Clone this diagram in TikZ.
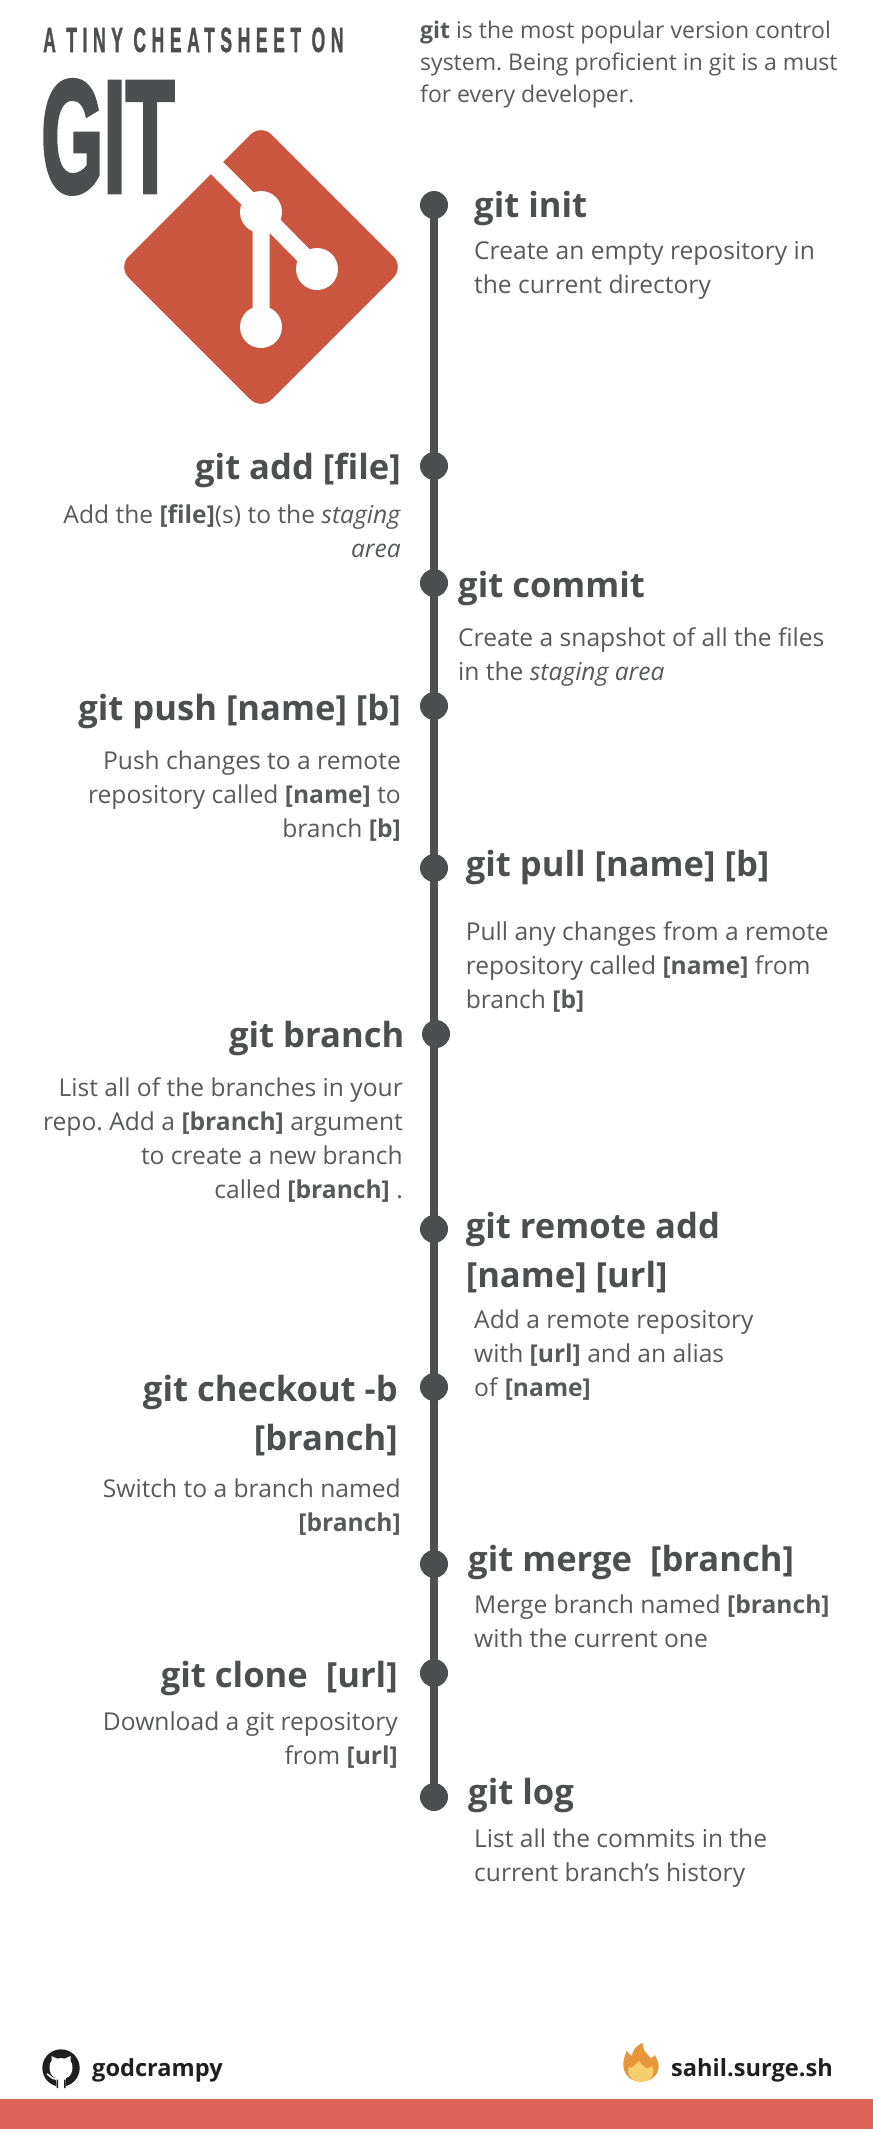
\documentclass[tikz,border=0pt]{standalone}
\usepackage{fontspec}
\setmainfont{Open Sans}
\frenchspacing
\newfontfamily\gitfont[BoldFeatures={FakeBold=3}]{Liberation Sans}
\newfontfamily\tinyfont[BoldFeatures={FakeBold=1.5,LetterSpace=32}]{Liberation Sans}
\definecolor{ink}{HTML}{4D4E50}
\definecolor{bodyink}{HTML}{58595B}
\definecolor{logored}{HTML}{CB5640}
\definecolor{bandred}{HTML}{DE6357}
\definecolor{nearblack}{HTML}{1F1F1F}
\definecolor{flameout}{HTML}{E8963A}
\definecolor{flamein}{HTML}{F7CE6E}
\tikzset{
  x=1pt,y=-1pt,
  dot/.style={circle,fill=ink,inner sep=0pt,minimum size=28pt},
  spine/.style={draw=ink,line width=8pt},
  headfont/.style={inner sep=0pt,text=ink,font=\fontsize{34.6}{49}\selectfont\bfseries},
  bodyfont/.style={inner sep=0pt,text=bodyink,font=\fontsize{24.6}{34}\selectfont},
  headl/.style={headfont,anchor=base west,align=left},
  headr/.style={headfont,anchor=base east,align=right},
  bodyl/.style={bodyfont,anchor=base west,align=left},
  bodyr/.style={bodyfont,anchor=base east,align=right},
  foot/.style={inner sep=0pt,anchor=base west,text=nearblack,font=\fontsize{23.6}{30}\selectfont\bfseries},
}
\begin{document}
\begin{tikzpicture}
\useasboundingbox (0,0) rectangle (873,2129);
\fill[bandred] (0,2099) rectangle (873,2129);
% title
\node[inner sep=0pt,anchor=base west,text=ink] (tiny) at (43,52) {\scalebox{0.5}[1]{\tinyfont\fontsize{35}{35}\selectfont\bfseries A TINY CHEATSHEET ON}};
\node[inner sep=0pt,anchor=base west,text=ink] (big) at (41,192) {\scalebox{0.5}[1]{\gitfont\fontsize{160}{160}\selectfont\bfseries GIT}};
\node[bodyfont,anchor=base west,align=left,font=\fontsize{23}{32}\selectfont] (intro) at (420,102) {\textbf{git} is the most popular version control\\system. Being proficient in git is a must\\for every developer.};
% logo
\fill[logored,rounded corners=15pt] (261,124) -- (404,267) -- (261,410) -- (118,267) -- cycle;
\draw[white,line width=17pt] (212,163) -- (261,212) -- (261,327);
\draw[white,line width=17pt] (261,212) -- (317,269);
\fill[white] (261,212) circle (21) (317,269) circle (21) (261,327) circle (21);
% spine and dots
\node[dot] (d1) at (434,205) {};
\node[dot] (d2) at (434,466) {};
\node[dot] (d3) at (434,583) {};
\node[dot] (d4) at (434,706) {};
\node[dot] (d5) at (434,868) {};
\node[dot] (d6) at (436,1034) {};
\node[dot] (d7) at (434,1229) {};
\node[dot] (d8) at (434,1387) {};
\node[dot] (d9) at (434,1564) {};
\node[dot] (d10) at (434,1673) {};
\node[dot] (d11) at (434,1797) {};
\draw[spine] (d1.center) -- (d11.center);
% entries (multi-line nodes are placed by their last baseline)
\node[headl] (h1) at (474,217) {git init};
\node[bodyl] (b1) at (474,293.5) {Create an empty repository in\\the current directory};
\node[headr] (h2) at (401,479) {git add [file]};
\node[bodyr] (b2) at (401,557) {Add the \textbf{[file]}(s) to the \textit{staging}\\\textit{area}};
\node[headl] (h3) at (458,597) {git commit};
\node[bodyl] (b3) at (458,680) {Create a snapshot of all the files\\in the \textit{staging area}};
\node[headr] (h4) at (401,720) {git push [name] [b]};
\node[bodyr] (b4) at (401,837) {Push changes to a remote\\repository called \textbf{[name]} to\\branch \textbf{[b]}};
\node[headl] (h5) at (465.6,876) {git pull [name] [b]};
\node[bodyl] (b5) at (465.6,1008) {Pull any changes from a remote\\repository called \textbf{[name]} from\\branch \textbf{[b]}};
\node[headr] (h6) at (404.5,1047) {git branch};
\node[bodyr] (b6) at (403,1198) {List all of the branches in your\\repo. Add a \textbf{[branch]} argument\\to create a new branch\\called \textbf{[branch]} .};
\node[headl] (h7) at (465.6,1287) {git remote add\\{[name] [url]}};
\node[bodyl] (b7) at (474,1396) {Add a remote repository\\with \textbf{[url]} and an alias\\of \textbf{[name]}};
\node[headr] (h8) at (398,1450) {git checkout -b\\{[branch]}};
\node[bodyr] (b8) at (401,1531.5) {Switch to a branch named\\\textbf{[branch]}};
\node[headl] (h9) at (468,1571) {git merge~~[branch]};
\node[bodyl] (b9) at (474,1647) {Merge branch named \textbf{[branch]}\\with the current one};
\node[headr] (h10) at (398,1687) {git clone~~[url]};
\node[bodyr] (b10) at (398,1764) {Download a git repository\\from \textbf{[url]}};
\node[headl] (h11) at (468,1804) {git log};
\node[bodyl] (b11) at (474,1881) {List all the commits in the\\current branch’s history};
% footer
\begin{scope}[shift={(61,2068)}]
\fill[nearblack] (0,0) circle (18.7);
\fill[white] (-4.5,19) -- (-5,10) .. controls (-9,9) and (-11.5,5) .. (-11.5,-1) .. controls (-11.5,-4) and (-10.5,-6) .. (-9.5,-7) -- (-9.5,-12) -- (-4,-9.5) .. controls (-1.5,-10) and (1.5,-10) .. (4,-9.5) -- (9.5,-12) -- (9.5,-7) .. controls (10.5,-6) and (11.5,-4) .. (11.5,-1) .. controls (11.5,5) and (9,9) .. (5,10) -- (4.5,19) -- cycle;
\fill[nearblack] (-4.5,20) rectangle (-3,11.5) (3,20) rectangle (4.5,11.5);
\draw[white,line width=1.6pt] (-14,6) .. controls (-11,7) and (-10,11) .. (-5,11);
\end{scope}
\node[foot] (gh) at (92,2076) {godcrampy};
\begin{scope}[shift={(610,2030)},x=0.3333pt,y=-0.3333pt]
\fill[flameout] (92,155) .. controls (60,155) and (38,130) .. (40,100) .. controls (41,85) and (46,72) .. (50,62) .. controls (55,70) and (60,75) .. (66,78) .. controls (66,62) and (78,48) .. (98,38) .. controls (95,55) and (108,70) .. (120,82) .. controls (124,85) and (128,85) .. (134,75) .. controls (142,88) and (146,100) .. (146,110) .. controls (146,135) and (122,155) .. (92,155) -- cycle;
\fill[flamein] (94,155) .. controls (72,155) and (55,142) .. (54,124) .. controls (54,112) and (60,108) .. (66,112) .. controls (72,108) and (80,100) .. (88,92) .. controls (92,102) and (100,110) .. (108,114) .. controls (116,116) and (122,112) .. (126,108) .. controls (132,120) and (132,128) .. (128,136) .. controls (120,150) and (108,155) .. (94,155) -- cycle;
\end{scope}
\node[foot] (site) at (671,2076) {sahil.surge.sh};
\end{tikzpicture}
\end{document}
